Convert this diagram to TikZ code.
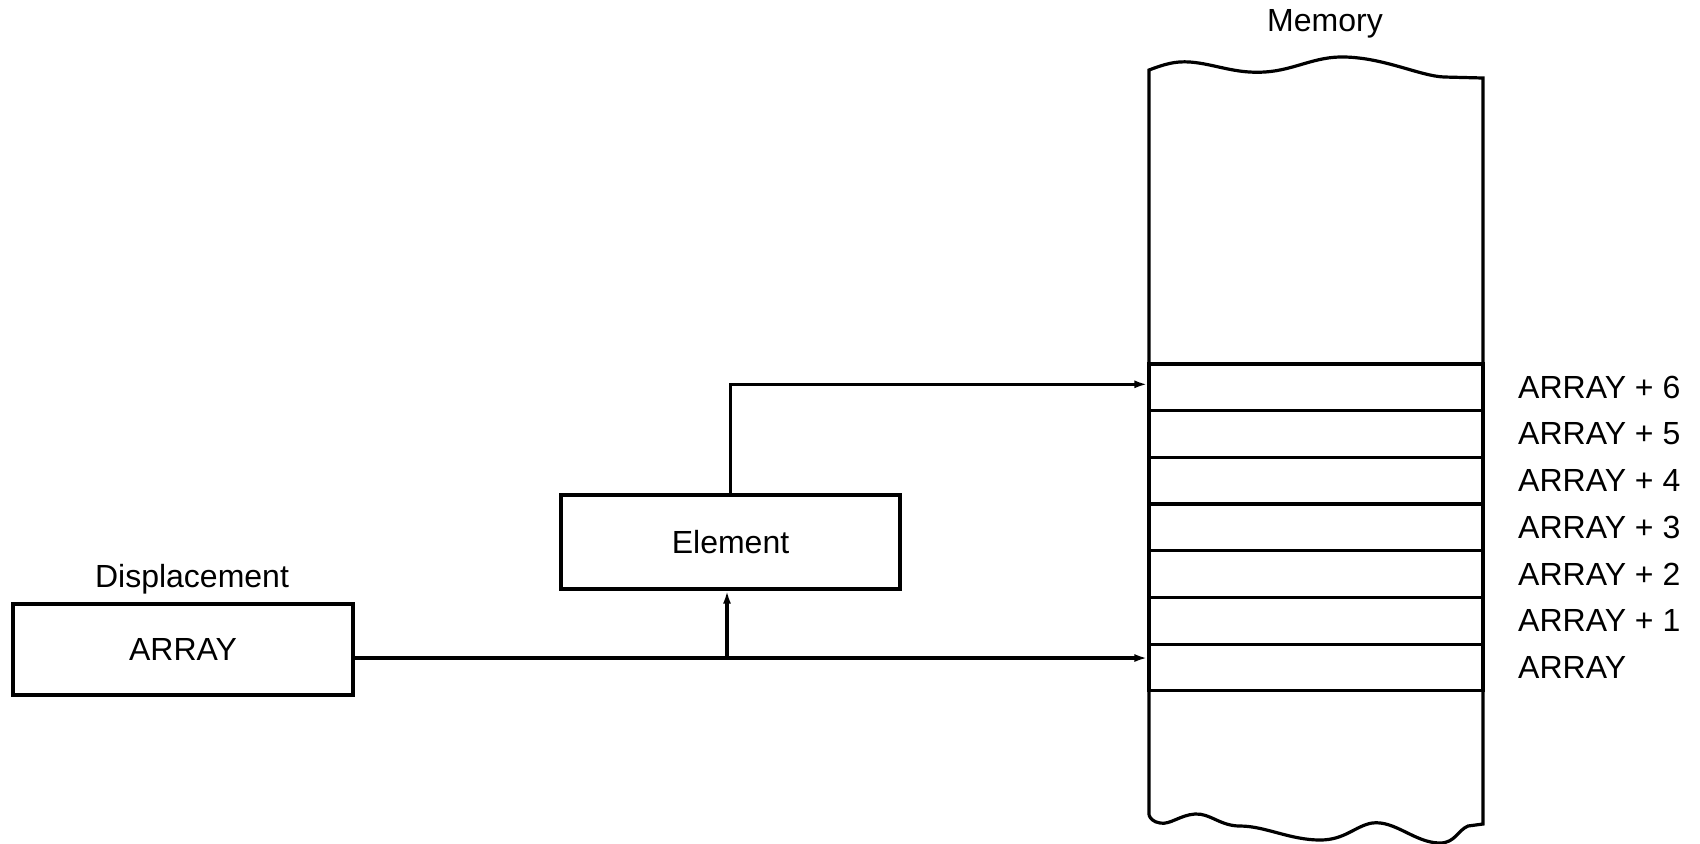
\documentclass[tikz,border=0pt]{standalone}
\usepackage{fontspec}
\setmainfont{Liberation Sans}
\usetikzlibrary{arrows.meta}
\begin{document}
\begin{tikzpicture}[x=0.5pt,y=-0.5pt,line width=1.6pt,
  every node/.style={font=\fontsize{16pt}{19pt}\selectfont},
  box/.style={draw,rectangle,inner sep=0pt},
  cell/.style={draw,rectangle,inner sep=0pt,minimum width=167pt,minimum height=23.35pt},
  lbl/.style={anchor=west,inner sep=0pt},
  arr/.style={-{Latex[length=6.5pt,width=4pt]}}]
\useasboundingbox (0,0) rectangle (1700,843);
% memory column outline
\draw (1149,815) -- (1149,70)
  .. controls (1165,64) and (1175,61) .. (1190,62)
  .. controls (1215,64) and (1235,74) .. (1265,72)
  .. controls (1295,70) and (1315,56) .. (1345,57)
  .. controls (1385,58) and (1420,76) .. (1444,77)
  -- (1483,78) -- (1483,824)
  -- (1468,826) .. controls (1458,830) and (1455,843) .. (1440,843)
  .. controls (1415,843) and (1395,820) .. (1372,823)
  .. controls (1355,826) and (1345,840) .. (1320,840)
  .. controls (1290,840) and (1265,826) .. (1240,826)
  .. controls (1220,826) and (1210,813) .. (1195,814)
  .. controls (1180,815) and (1170,825) .. (1160,823)
  .. controls (1153,822) and (1150,818) .. (1149,815);
% memory cells
\foreach \i in {0,...,6}{
  \node[cell] (cell\i) at (1316,{667.5-\i*46.7}) {};
  \node[lbl] (lab\i) at ([xshift=16pt]cell\i.east) {\ifnum\i=0 ARRAY\else ARRAY + \i\fi};
}
\node (mem) at (1325,24) {Memory};
% boxes
\node[box,minimum width=170pt,minimum height=45.5pt] (disp) at (183,649.5) {ARRAY};
\node (displbl) at (192,579) {Displacement};
\node[box,minimum width=169.5pt,minimum height=47pt] (elem) at (730.5,542) {Element};
% connectors
\coordinate (j) at (727,658);
\draw (disp.east |- j) -- (j);
\draw[arr] (j) -- (cell0.west |- j);
\draw[arr] (j) -- (j |- elem.south);
\draw[arr] (elem.north) |- ([yshift=1.5pt]cell6.west);
\end{tikzpicture}
\end{document}
